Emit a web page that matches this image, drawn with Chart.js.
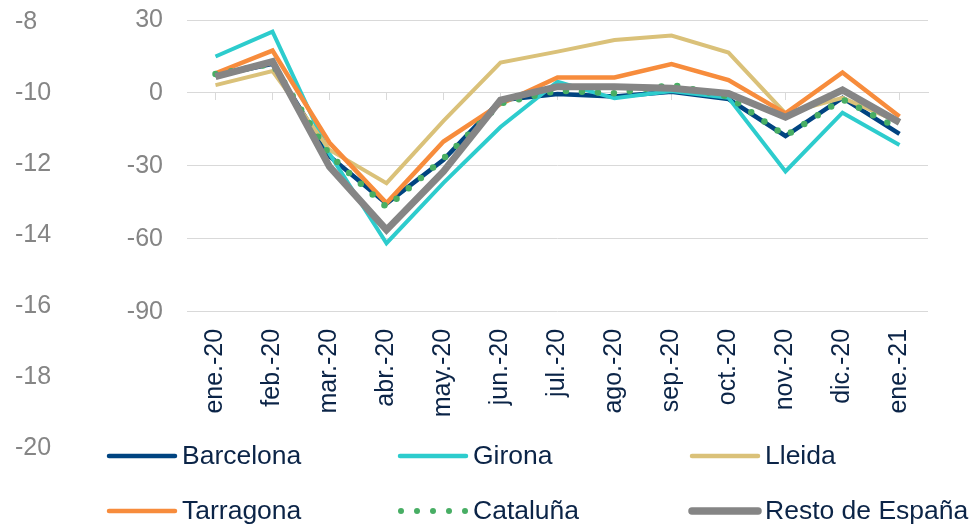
<!DOCTYPE html>
<html>
<head>
<meta charset="utf-8">
<script src="https://cdn.jsdelivr.net/npm/chart.js@4/dist/chart.umd.min.js"></script>
<style>
  html, body { margin: 0; padding: 0; background: #ffffff; }
  #wrap { width: 970px; height: 526px; position: relative; }
</style>
</head>
<body>
<div id="wrap"><canvas id="c"></canvas></div>
<script>
// ---- data ----
const categories = ['ene.-20','feb.-20','mar.-20','abr.-20','may.-20','jun.-20','jul.-20','ago.-20','sep.-20','oct.-20','nov.-20','dic.-20','ene.-21'];
const barcelona = [7, 12, -26, -45.5, -27.5, -3, -0.4, -1.5, 0.5, -2.5, -17.7, -2, -16.8];
const girona    = [15, 25.2, -25, -61.8, -37, -14, 4.6, -2.2, 0.8, -2, -32.3, -8.1, -21.4];
const lleida    = [3.2, 9, -23.4, -37.1, -11.5, 12.5, 17, 21.8, 23.6, 16.6, -8.4, -2, -12];
const tarragona = [8.1, 17.4, -20.5, -45.3, -20, -4.5, 6.4, 6.4, 11.9, 5.3, -8.4, 8.4, -9.7];
const cataluna  = [7.8, 12, -25.5, -47, -27, -4.3, 1, -0.1, 3.3, -1.5, -17.7, -2.6, -14.8];
const resto     = [6.7, 12.9, -30.3, -56.3, -32.3, -2.9, 2.6, 2.6, 1.9, -0.2, -10, 1.2, -12.1];
const seriesNames = ['Barcelona', 'Girona', 'Lleida', 'Tarragona', 'Cataluña', 'Resto de España'];
const leftTicks  = [-90, -60, -30, 0, 30];
const outerTicks = [-20, -18, -16, -14, -12, -10, -8];

// ---- styles ----
const FONT = "'Liberation Sans', Arial, sans-serif";
const NAVY_TEXT = '#0b2447';
const GRAY_TEXT = '#858585';
const GRID = '#d9d9d9';

const datasets = [
  { label: seriesNames[0], data: barcelona, borderColor: '#004481', borderWidth: 4.5, order: 6 },
  { label: seriesNames[1], data: girona,    borderColor: '#2dcccd', borderWidth: 4, order: 5 },
  { label: seriesNames[2], data: lleida,    borderColor: '#dac179', borderWidth: 4, order: 4 },
  { label: seriesNames[3], data: tarragona, borderColor: '#f78c3c', borderWidth: 4.5, order: 3 },
  { label: seriesNames[4], data: cataluna,  borderColor: '#48ae64', borderWidth: 6.5, borderDash: [0, 16], borderCapStyle: 'round', order: 2 },
  { label: seriesNames[5], data: resto,     borderColor: '#858585', borderWidth: 7, order: 1 }
].map(d => Object.assign({ pointRadius: 0, pointHoverRadius: 0, tension: 0, fill: false, borderJoinStyle: 'miter', borderCapStyle: d.borderCapStyle || 'butt' }, d));

// custom legend laid out in a 3-column grid
const legendGrid = {
  id: 'legendGrid',
  afterDraw(chart) {
    const ctx = chart.ctx;
    const cols = [107, 398, 690];
    const rows = [456, 511];
    const sampleLen = 70;
    ctx.save();
    ctx.font = '26.5px ' + FONT;
    ctx.textBaseline = 'middle';
    ctx.textAlign = 'left';
    chart.data.datasets.forEach((ds, i) => {
      const x = cols[i % 3];
      const y = rows[Math.floor(i / 3)];
      ctx.strokeStyle = ds.borderColor;
      ctx.fillStyle = ds.borderColor;
      if (ds.borderDash && ds.borderDash.length) {
        for (let k = 0; k < 5; k++) {
          ctx.beginPath();
          ctx.arc(x + 3 + k * 16, y, 3, 0, Math.PI * 2);
          ctx.fill();
        }
      } else {
        ctx.lineWidth = i === 5 ? 7.5 : 4.5;
        ctx.lineCap = 'round';
        ctx.beginPath();
        ctx.moveTo(x + 2, y);
        ctx.lineTo(x + sampleLen - 2, y);
        ctx.stroke();
      }
      ctx.fillStyle = NAVY_TEXT;
      ctx.fillText(ds.label, x + sampleLen + 5, y + 1);
    });
    ctx.restore();
  }
};

new Chart(document.getElementById('c'), {
  type: 'line',
  data: { labels: categories, datasets },
  options: {
    responsive: true,
    maintainAspectRatio: false,
    animation: false,
    layout: { padding: { left: 15, right: 42, top: 20, bottom: 78 } },
    plugins: { legend: { display: false }, tooltip: { enabled: false } },
    scales: {
      x: {
        type: 'category',
        position: { y: -90 },
        offset: true,
        grid: { display: false },
        border: { display: false },
        ticks: {
          autoSkip: false, minRotation: 90, maxRotation: 90, padding: 9,
          color: NAVY_TEXT, font: { family: FONT, size: 25 }
        },
        afterFit(s) { s.height = 0; }
      },
      x2: {
        type: 'category',
        position: { y: 0 },
        offset: true,
        grid: { display: true, drawOnChartArea: false, drawTicks: true, tickLength: 7, color: GRID, lineWidth: 1 },
        border: { display: true, color: GRID, width: 1 },
        ticks: { display: false },
        afterFit(s) { s.height = 0; }
      },
      y: {
        type: 'linear',
        position: 'left',
        min: -146, max: 30,
        weight: 1,
        afterBuildTicks(s) { s.ticks = leftTicks.map(v => ({ value: v })); },
        grid: { color: GRID, lineWidth: 1, drawTicks: true, tickLength: 24, tickColor: 'rgba(0,0,0,0)' },
        border: { display: false },
        ticks: { padding: 0, color: GRAY_TEXT, font: { family: FONT, size: 25 } },
        afterFit(s) { s.width = 72; }
      },
      yOuter: {
        type: 'linear',
        position: 'left',
        min: -20, max: -7.94,
        weight: 10,
        afterBuildTicks(s) { s.ticks = outerTicks.map(v => ({ value: v })); },
        grid: { display: false, drawTicks: false },
        border: { display: false },
        ticks: { crossAlign: 'far', padding: 0, color: GRAY_TEXT, font: { family: FONT, size: 25 } },
        afterFit(s) { s.width = 100; }
      }
    }
  },
  plugins: [legendGrid]
});
</script>
</body>
</html>
